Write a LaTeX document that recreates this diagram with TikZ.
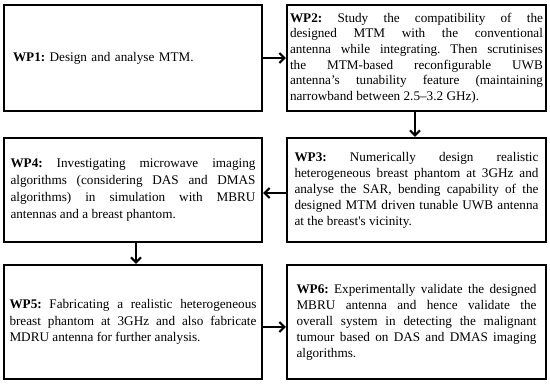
\documentclass[tikz,border=0pt]{standalone}
\usepackage{fontspec}
\setmainfont{Liberation Serif}
\usetikzlibrary{arrows.meta}
\hyphenpenalty=10000
\exhyphenpenalty=10000
\tolerance=10000
\frenchspacing
\begin{document}
\begin{tikzpicture}[x=1pt,y=1pt,
  wpbox/.style={draw, line width=2.4pt, minimum width=258pt, align=justify,
    inner sep=0pt, font=\fontsize{13.2}{16}\selectfont},
  link/.style={line width=2pt, -{Straight Barb[length=5pt,width=10pt]}}]
\useasboundingbox (0,0) rectangle (550,385);
\node[wpbox, minimum height=106pt, text width=240pt, align=left] (wp1) at (133,327)
  {\textbf{WP1:} Design and analyse MTM.};
\node[wpbox, minimum height=106pt, text width=253pt, minimum width=259pt,
  font=\fontsize{13.2}{15.6}\selectfont] (wp2) at (416.5,327)
  {\textbf{WP2:} Study the compatibility of the\linebreak
   designed MTM with the conventional\linebreak
   antenna while integrating. Then scrutinises\linebreak
   the MTM-based reconfigurable UWB\linebreak
   antenna’s tunability feature (maintaining\linebreak
   narrowband between 2.5–3.2 GHz).};
\node[wpbox, minimum height=104pt, text width=244pt, minimum width=259pt] (wp3) at (416.5,195)
  {\textbf{WP3:} Numerically design realistic\linebreak
   heterogeneous breast phantom at 3GHz and\linebreak
   analyse the SAR, bending capability of the\linebreak
   designed MTM driven tunable UWB antenna\linebreak
   at the breast\textquotesingle s vicinity.};
\node[wpbox, minimum height=104pt, text width=245pt,
  font=\fontsize{13.2}{16.8}\selectfont] (wp4) at (133,195)
  {\textbf{WP4:} Investigating microwave imaging\linebreak
   algorithms (considering DAS and DMAS\linebreak
   algorithms) in simulation with MBRU\linebreak
   antennas and a breast phantom.};
\node[wpbox, minimum height=114pt, text width=247pt,
  font=\fontsize{13.2}{16.8}\selectfont] (wp5) at (133,63)
  {\textbf{WP5:} Fabricating a realistic heterogeneous\linebreak
   breast phantom at 3GHz and also fabricate\linebreak
   MDRU antenna for further analysis.};
\node[wpbox, minimum height=114pt, text width=240pt, minimum width=259pt] (wp6) at (416.5,63)
  {\textbf{WP6:} Experimentally validate the designed\linebreak
   MBRU antenna and hence validate the\linebreak
   overall system in detecting the malignant\linebreak
   tumour based on DAS and DMAS imaging\linebreak
   algorithms.};
\draw[link] (wp1.east) -- (wp2.west);
\draw[link] ([xshift=-1.5pt]wp2.south) -- ([xshift=-1.5pt]wp3.north);
\draw[link] ([yshift=-3pt]wp3.west) -- ([yshift=-3pt]wp4.east);
\draw[link] ([xshift=3pt]wp4.south) -- ([xshift=3pt]wp5.north);
\draw[link] ([yshift=-5pt]wp5.east) -- ([yshift=-5pt]wp6.west);
\end{tikzpicture}
\end{document}
